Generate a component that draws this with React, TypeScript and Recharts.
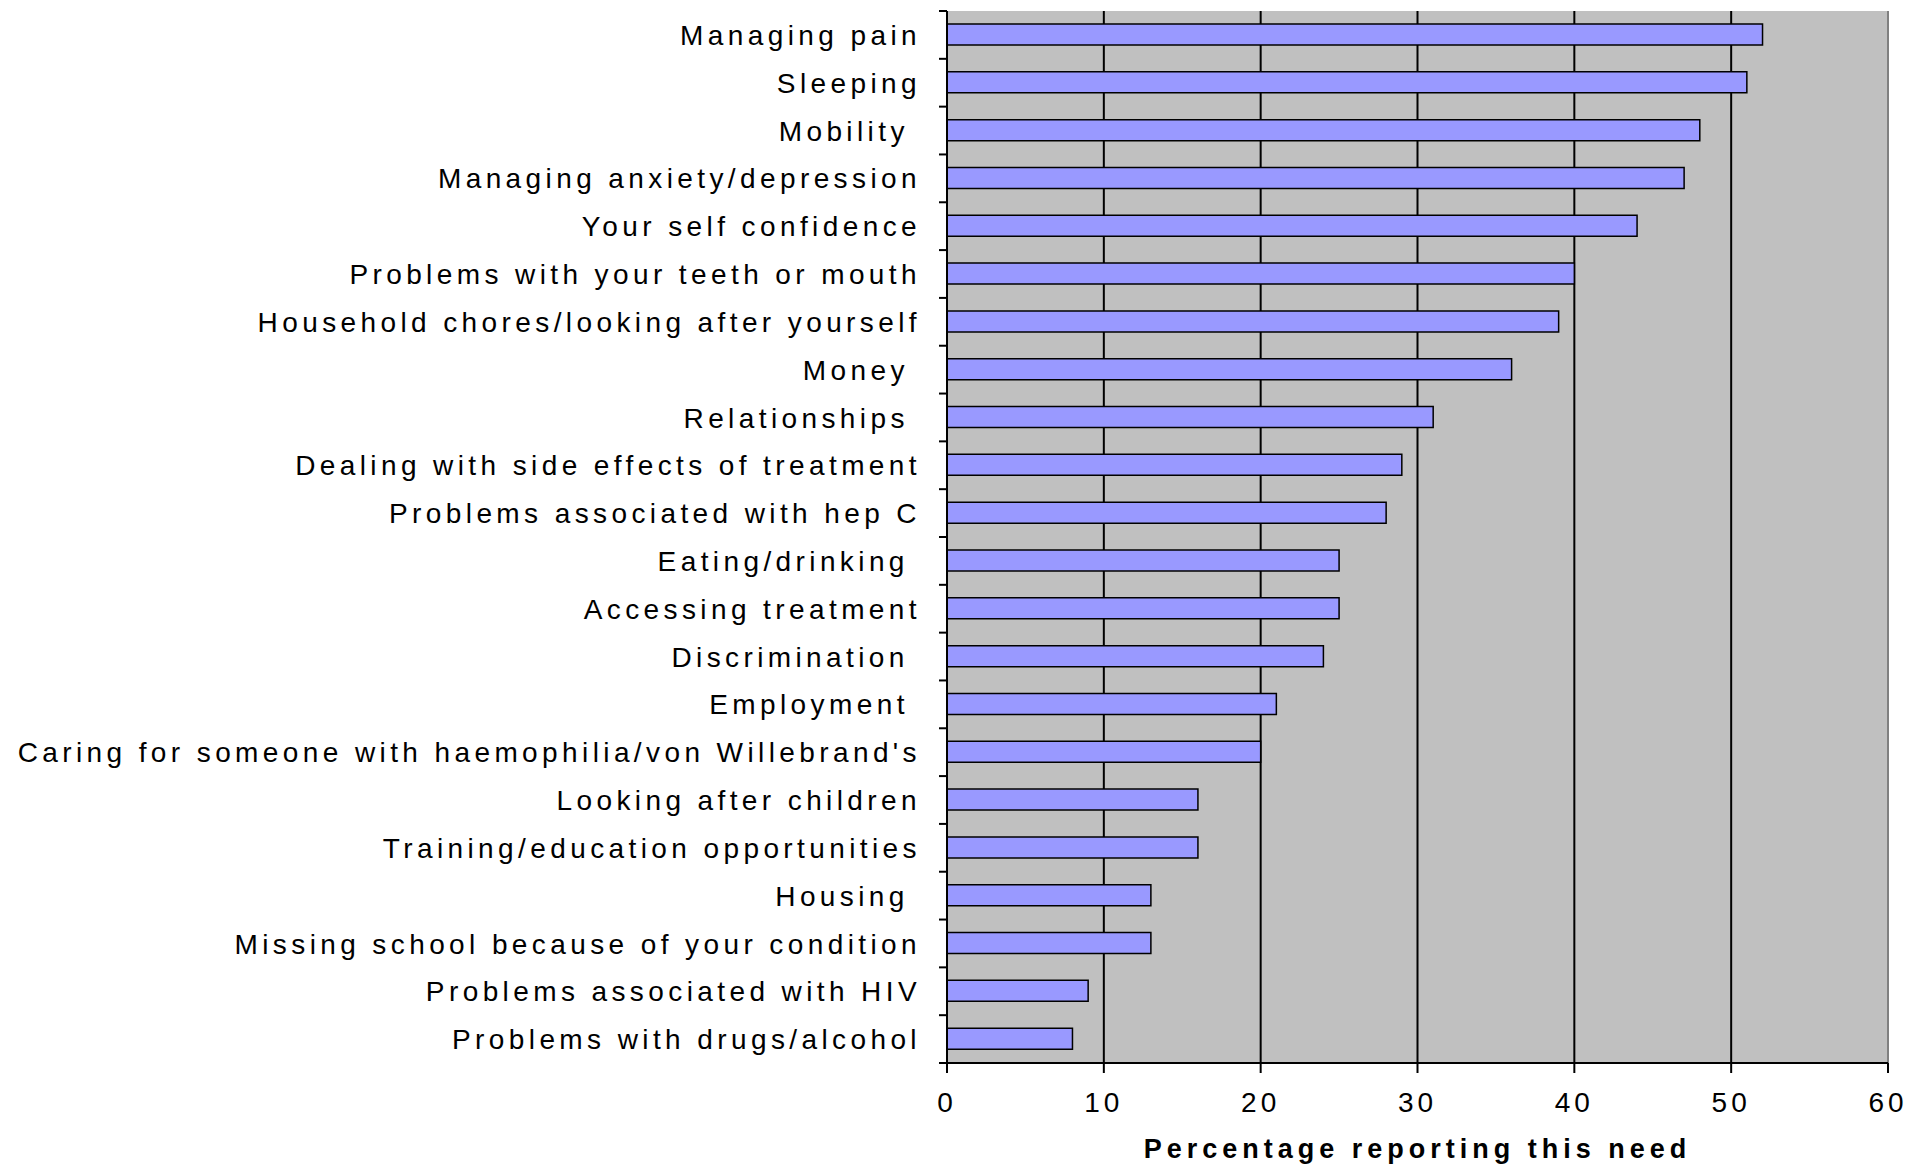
import React from "react"
import {
  BarChart,
  Bar,
  XAxis,
  YAxis,
  CartesianGrid,
  ReferenceLine,
} from "recharts"

const categories = [
  "Managing pain",
  "Sleeping",
  "Mobility ",
  "Managing anxiety/depression",
  "Your self confidence",
  "Problems with your teeth or mouth",
  "Household chores/looking after yourself",
  "Money ",
  "Relationships ",
  "Dealing with side effects of treatment",
  "Problems associated with hep C",
  "Eating/drinking ",
  "Accessing treatment",
  "Discrimination ",
  "Employment ",
  "Caring for someone with haemophilia/von Willebrand's",
  "Looking after children",
  "Training/education opportunities",
  "Housing ",
  "Missing school because of your condition",
  "Problems associated with HIV",
  "Problems with drugs/alcohol",
]

const percentages = [52, 51, 48, 47, 44, 40, 39, 36, 31, 29, 28, 25, 25, 24, 21, 20, 16, 16, 13, 13, 9, 8]

const xTicks = [0, 10, 20, 30, 40, 50, 60]

const data = categories.map((name, i) => ({ name, value: percentages[i] }))

const W = 1931
const H = 1166
const M = { top: 11, right: 43, bottom: 0, left: 0 }
const Y_AXIS_W = 947
const X_AXIS_H = 103
const PLOT_H = H - M.top - M.bottom - X_AXIS_H
const BAND = PLOT_H / categories.length

const FONT = "'Liberation Sans', Arial, sans-serif"
const Y_TICK_SIZE = 8
const Y_TICK_MARGIN = 18

function CategoryTick(props: any) {
  const { x, y, payload, index } = props
  const axisX = x + Y_TICK_SIZE + Y_TICK_MARGIN
  const isLast = index === categories.length - 1
  return (
    <g>
      <line x1={axisX - Y_TICK_SIZE} x2={axisX} y1={y - BAND / 2} y2={y - BAND / 2} stroke="#000" strokeWidth={2} />
      {isLast && (
        <line x1={axisX - Y_TICK_SIZE} x2={axisX} y1={y + BAND / 2} y2={y + BAND / 2} stroke="#000" strokeWidth={2} />
      )}
      <text
        x={x}
        y={y}
        dy="0.36em"
        textAnchor="end"
        fill="#000"
        fontSize={28}
        fontFamily={FONT}
        style={{ letterSpacing: 4.4, whiteSpace: "pre" }}
      >
        {payload.value}
      </text>
    </g>
  )
}

function AxisTitle(props: any) {
  const vb = props.viewBox || {}
  return (
    <text
      x={vb.x + vb.width / 2}
      y={vb.y + vb.height - 8}
      textAnchor="middle"
      fill="#000"
      fontSize={27}
      fontWeight="bold"
      fontFamily={FONT}
      style={{ letterSpacing: 5 }}
    >
      Percentage reporting this need
    </text>
  )
}

export default function App() {
  return (
    <div style={{ position: "absolute", left: 0, top: 0, width: W, height: H, background: "#fff" }}>
      <BarChart width={W} height={H} data={data} layout="vertical" margin={M}>
        <CartesianGrid horizontal={false} stroke="#000" strokeWidth={2} fill="#C0C0C0" fillOpacity={1} />
        <XAxis
          xAxisId="top"
          orientation="top"
          type="number"
          domain={[0, 60]}
          height={0}
          tick={false}
          tickLine={false}
          axisLine={{ stroke: "#808080", strokeWidth: 2 }}
        />
        <XAxis
          type="number"
          domain={[0, 60]}
          ticks={xTicks}
          height={X_AXIS_H}
          tickSize={10}
          tickMargin={19}
          axisLine={{ stroke: "#000", strokeWidth: 2 }}
          tickLine={{ stroke: "#000", strokeWidth: 2 }}
          tick={{ fill: "#000", fontSize: 28, fontFamily: FONT, style: { letterSpacing: 4 } }}
          label={<AxisTitle />}
        />
        <YAxis
          type="category"
          dataKey="name"
          width={Y_AXIS_W}
          interval={0}
          tickSize={Y_TICK_SIZE}
          tickMargin={Y_TICK_MARGIN}
          tickLine={false}
          axisLine={{ stroke: "#000", strokeWidth: 2 }}
          tick={<CategoryTick />}
        />
        <ReferenceLine x={60} stroke="#808080" strokeWidth={2} />
        <Bar
          dataKey="value"
          fill="#9999FF"
          stroke="#000"
          strokeWidth={1.5}
          barSize={21}
          isAnimationActive={false}
        />
      </BarChart>
    </div>
  )
}
